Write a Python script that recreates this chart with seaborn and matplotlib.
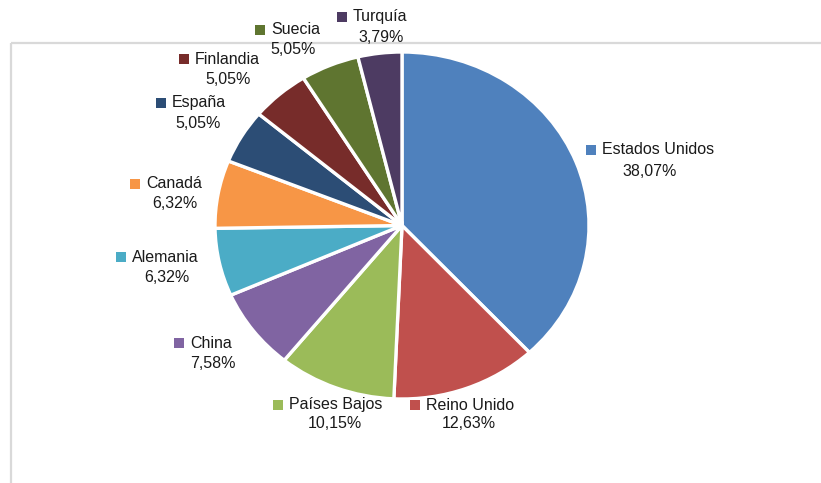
import matplotlib
matplotlib.use("Agg")
import matplotlib.pyplot as plt
import seaborn as sns

# ---- data ----
countries = ["Estados Unidos", "Reino Unido", "Países Bajos", "China", "Alemania",
             "Canadá", "España", "Finlandia", "Suecia", "Turquía"]
shares = [38.07, 12.63, 10.15, 7.58, 6.32, 6.32, 5.05, 5.05, 5.05, 3.79]
pct_labels = ["38,07%", "12,63%", "10,15%", "7,58%", "6,32%",
              "6,32%", "5,05%", "5,05%", "5,05%", "3,79%"]
colors = ["#4F81BD", "#C0504D", "#9BBB59", "#8064A2", "#4BACC6",
          "#F79646", "#2C4D75", "#772C2A", "#5F7530", "#4D3B62"]

# ---- layout (pixel positions of label blocks: square centre x, name-line y, pct centre x, pct y) ----
label_pos = [
    (591, 150, 650, 171),
    (415, 405, 469, 424),
    (278, 405, 335, 424),
    (179, 343, 213, 363),
    (121, 257, 167, 277),
    (135, 184, 175, 203),
    (161, 103, 198, 123),
    (184, 59, 228, 80),
    (260, 30, 293, 49),
    (342, 17, 381, 37),
]

sns.set_theme(style="white")
plt.rcParams["font.family"] = ["Liberation Sans", "DejaVu Sans"]

W, H = 821, 483
fig = plt.figure(figsize=(W / 100, H / 100), dpi=100)

# pie axes (elliptical, as in reference)
pad = 2
left, right, top, bottom = 217 - pad, 587 + pad, 54 - pad, 397 + pad
ax = fig.add_axes([left / W, (H - bottom) / H, (right - left) / W, (bottom - top) / H])
ax.pie(shares, colors=colors, startangle=90, counterclock=False,
       wedgeprops=dict(edgecolor="white", linewidth=2.4))
ax.set_aspect("auto")
ax.set_xlim(-1, 1)
ax.set_ylim(-1, 1)
ax.axis("off")

# overlay axes in pixel coordinates
ov = fig.add_axes([0, 0, 1, 1], zorder=5)
ov.set_xlim(0, W)
ov.set_ylim(H, 0)
ov.axis("off")
ov.patch.set_alpha(0)

# chart area border (top and left visible)
ov.plot([11, W + 5], [43, 43], color="#d9d9d9", lw=1.6, zorder=1, solid_capstyle="butt")
ov.plot([11, 11], [43, H + 5], color="#d9d9d9", lw=1.6, zorder=1, solid_capstyle="butt")

txt_color = "#1a1a1a"
fs = 11.5
for name, pct, col, (sx, ny, px, py) in zip(countries, pct_labels, colors, label_pos):
    ov.plot([sx], [ny], marker="s", markersize=7.2, color=col, markeredgewidth=0, zorder=3)
    ov.text(sx + 11, ny, name, ha="left", va="center", fontsize=fs, color=txt_color, zorder=4)
    ov.text(px, py, pct, ha="center", va="center", fontsize=fs, color=txt_color, zorder=4)

fig.savefig("out.png", dpi=100, facecolor="white")
